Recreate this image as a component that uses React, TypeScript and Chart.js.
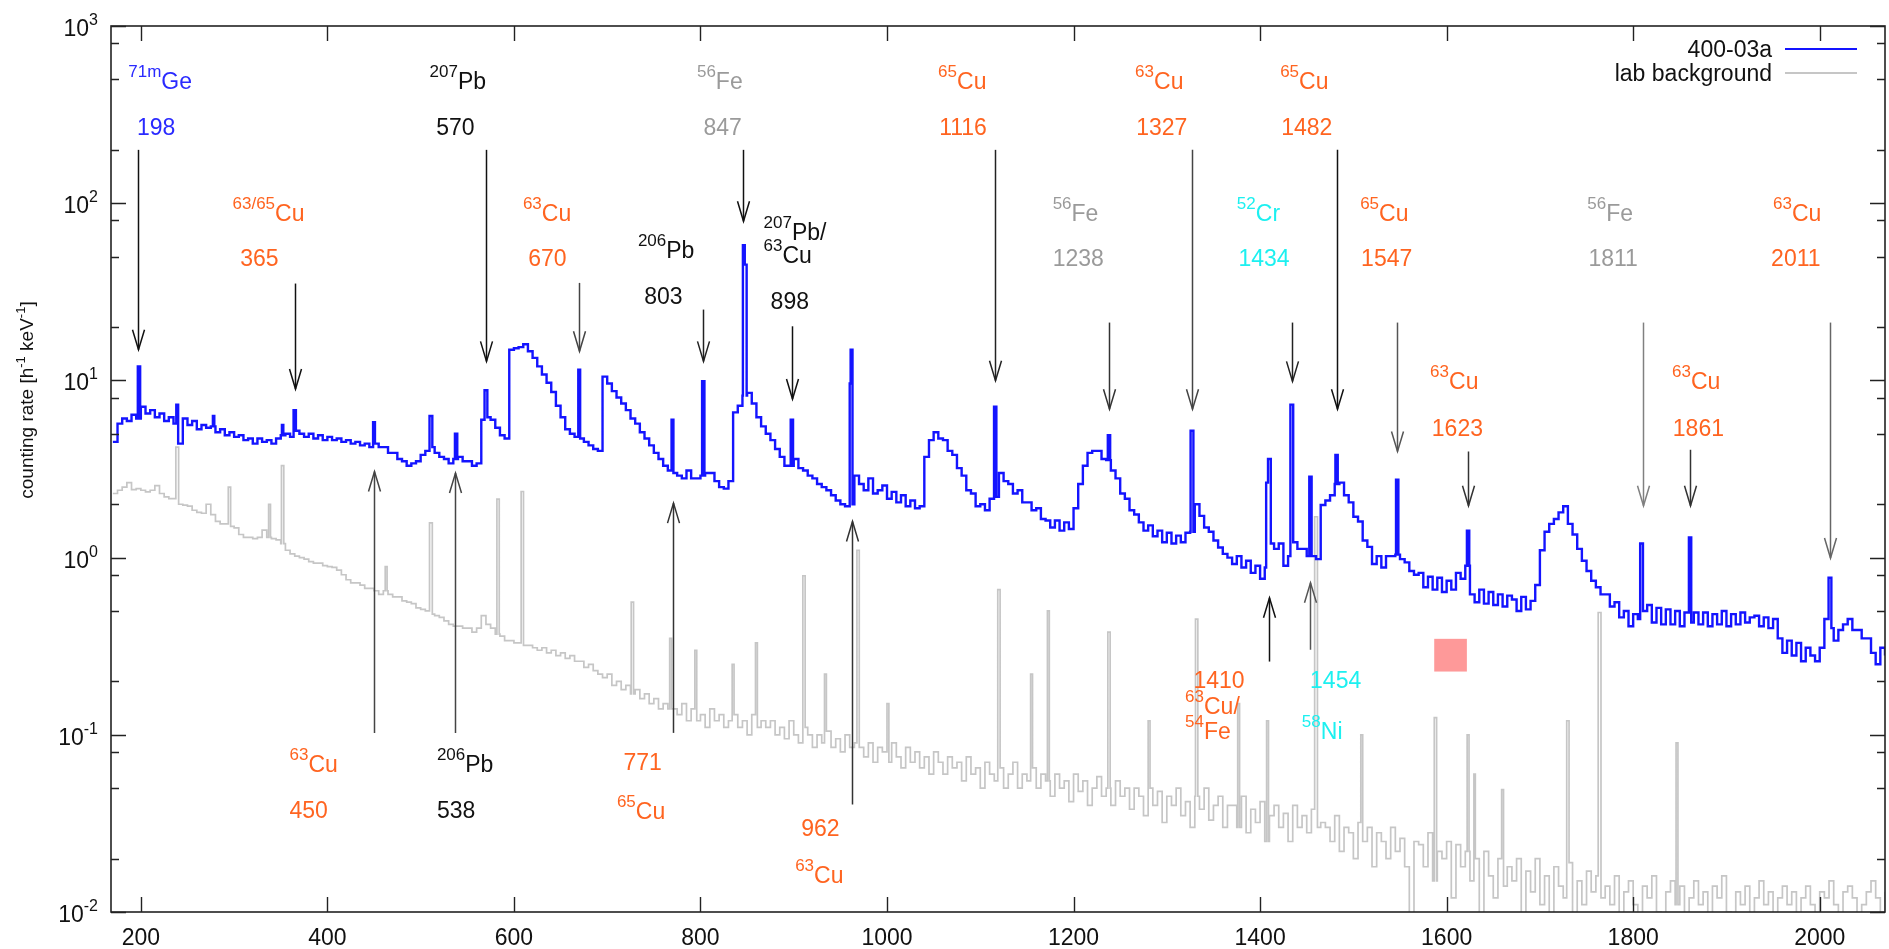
import React, { useEffect, useRef } from 'react';
import { Chart, registerables } from 'chart.js';

Chart.register(...registerables);

// ---------- axis ranges ----------
const X_MIN = 168;
const X_MAX = 2070;
const Y_MIN = 0.01;
const Y_MAX = 1000;

// ---------- spectrum bins (5 keV bins starting at 170 keV) ----------
const BIN_START_KEV = 170;
const BIN_WIDTH_KEV = 5;

// 400-03a counting rate per bin [1/(h keV)]
const sampleRate: number[] = [
  4.5, 5.7, 6.1, 5.9, 6.4, 6.1, 7.1, 6.5, 6.8, 6.2, 6.5, 5.9, 6.2, 5.7, 4.4, 6.1, 5.6, 5.9, 5.3, 5.6,
  5.4, 5.5, 5.1, 5.3, 4.9, 5.1, 4.8, 4.9, 4.6, 4.7, 4.4, 4.7, 4.5, 4.6, 4.4, 4.7, 4.9, 5.0, 4.8, 5.2,
  5.0, 4.8, 5.0, 4.7, 4.9, 4.6, 4.8, 4.6, 4.7, 4.5, 4.6, 4.4, 4.5, 4.3, 4.4, 4.2, 4.4, 4.2, 4.2, 3.9,
  3.9, 3.6, 3.5, 3.3, 3.4, 3.5, 3.8, 4.0, 4.2, 3.9, 3.7, 3.6, 3.4, 3.6, 3.7, 3.5, 3.5, 3.3, 3.4, 6.0,
  6.2, 6.0, 5.4, 4.9, 4.7, 14.9, 15.2, 15.4, 16.0, 14.6, 13.4, 12.0, 10.8, 9.7, 8.6, 7.2, 6.2, 5.3, 5.0, 4.8,
  4.7, 4.5, 4.3, 4.1, 4.0, 10.5, 9.6, 8.7, 8.0, 7.4, 6.8, 6.1, 5.7, 5.1, 4.7, 4.3, 3.9, 3.6, 3.3, 3.1,
  3.0, 2.9, 2.8, 3.1, 2.8, 2.8, 2.9, 3.0, 3.0, 2.7, 2.5, 2.45, 2.7, 6.6, 7.2, 8.2, 8.5, 7.4, 6.2, 5.5,
  5.0, 4.6, 4.1, 3.7, 3.3, 3.3, 3.6, 3.2, 3.1, 2.9, 2.8, 2.6, 2.5, 2.4, 2.25, 2.1, 2.0, 1.95, 2.0, 2.9,
  2.6, 2.4, 2.8, 2.3, 2.4, 2.55, 2.15, 2.35, 2.05, 2.25, 1.95, 2.1, 1.9, 1.95, 3.7, 4.6, 5.1, 4.7, 4.6, 4.0,
  3.8, 3.2, 2.9, 2.4, 2.3, 1.95, 2.0, 1.85, 2.15, 2.2, 3.0, 2.7, 2.6, 2.3, 2.4, 2.05, 2.05, 1.85, 1.9, 1.65,
  1.62, 1.48, 1.62, 1.42, 1.58, 1.45, 1.9, 2.6, 3.3, 3.9, 4.0, 4.0, 3.6, 3.55, 3.1, 2.8, 2.3, 2.15, 1.85, 1.75,
  1.58, 1.42, 1.52, 1.32, 1.42, 1.22, 1.38, 1.2, 1.33, 1.22, 1.38, 1.4, 2.0, 1.72, 1.48, 1.4, 1.25, 1.14, 1.05, 1.0,
  0.92, 1.02, 0.88, 0.96, 0.82, 0.9, 0.76, 0.88, 1.2, 1.12, 1.2, 0.9, 1.02, 1.22, 1.12, 1.12, 1.02, 1.02, 0.98, 1.98,
  2.1, 2.25, 2.6, 2.65, 2.25, 2.05, 1.7, 1.6, 1.25, 1.15, 0.92, 1.02, 0.88, 1.02, 1.02, 1.04, 0.98, 0.94, 0.84, 0.8,
  0.82, 0.68, 0.78, 0.66, 0.77, 0.64, 0.74, 0.66, 0.82, 0.76, 0.9, 0.62, 0.56, 0.66, 0.55, 0.64, 0.54, 0.62, 0.53, 0.61,
  0.58, 0.5, 0.6, 0.51, 0.57, 0.7, 1.1, 1.4, 1.55, 1.65, 1.8, 1.95, 1.55, 1.35, 1.12, 0.96, 0.84, 0.74, 0.68, 0.62,
  0.62, 0.53, 0.56, 0.46, 0.5, 0.41, 0.48, 0.45, 0.5, 0.54, 0.43, 0.52, 0.42, 0.51, 0.42, 0.5, 0.41, 0.49, 0.43, 0.49,
  0.42, 0.49, 0.41, 0.48, 0.42, 0.5, 0.41, 0.48, 0.42, 0.49, 0.43, 0.46, 0.47, 0.41, 0.46, 0.4, 0.45, 0.35, 0.29, 0.34,
  0.28, 0.33, 0.26, 0.31, 0.28, 0.26, 0.31, 0.45, 0.4, 0.34, 0.39, 0.42, 0.45, 0.39, 0.39, 0.35, 0.35, 0.29, 0.25, 0.31,
  0.28,
];

// lab background counting rate per bin
const backgroundRate: number[] = [
  2.3, 2.4, 2.5, 2.65, 2.42, 2.45, 2.4, 2.35, 2.4, 2.55, 2.3, 2.2, 2.15, 2.15, 2.0, 1.98, 1.95, 1.85, 1.8, 1.78,
  2.0, 1.75, 1.6, 1.55, 1.55, 1.5, 1.47, 1.35, 1.3, 1.3, 1.28, 1.3, 1.43, 1.3, 1.28, 1.26, 1.2, 1.1, 1.05, 1.02,
  1.0, 0.98, 0.95, 0.93, 0.93, 0.9, 0.89, 0.88, 0.85, 0.8, 0.75, 0.72, 0.72, 0.7, 0.67, 0.67, 0.65, 0.62, 0.65, 0.62,
  0.6, 0.6, 0.57, 0.56, 0.55, 0.52, 0.51, 0.5, 0.48, 0.47, 0.46, 0.44, 0.42, 0.41, 0.41, 0.4, 0.4, 0.38, 0.4, 0.47,
  0.42, 0.4, 0.37, 0.36, 0.34, 0.34, 0.33, 0.33, 0.32, 0.32, 0.31, 0.3, 0.31, 0.29, 0.3, 0.28, 0.29, 0.27, 0.28, 0.26,
  0.26, 0.24, 0.25, 0.23, 0.22, 0.21, 0.22, 0.19, 0.2, 0.18, 0.19, 0.17, 0.18, 0.16, 0.17, 0.15, 0.16, 0.14, 0.15, 0.14,
  0.14, 0.13, 0.15, 0.12, 0.14, 0.12, 0.13, 0.11, 0.14, 0.12, 0.13, 0.11, 0.12, 0.13, 0.11, 0.12, 0.1, 0.13, 0.11, 0.12,
  0.11, 0.12, 0.1, 0.11, 0.095, 0.12, 0.1, 0.09, 0.11, 0.1, 0.085, 0.1, 0.09, 0.105, 0.085, 0.095, 0.08, 0.1, 0.085, 0.09,
  0.085, 0.075, 0.09, 0.07, 0.085, 0.08, 0.07, 0.09, 0.075, 0.065, 0.085, 0.07, 0.08, 0.065, 0.075, 0.06, 0.08, 0.07, 0.06, 0.075,
  0.065, 0.07, 0.055, 0.075, 0.06, 0.065, 0.05, 0.07, 0.06, 0.055, 0.065, 0.05, 0.06, 0.07, 0.05, 0.06, 0.055, 0.065, 0.05, 0.06,
  0.055, 0.045, 0.06, 0.05, 0.055, 0.042, 0.06, 0.048, 0.055, 0.04, 0.05, 0.058, 0.045, 0.05, 0.04, 0.055, 0.045, 0.05, 0.038, 0.05,
  0.045, 0.035, 0.05, 0.04, 0.048, 0.032, 0.045, 0.04, 0.05, 0.035, 0.042, 0.03, 0.045, 0.038, 0.05, 0.033, 0.04, 0.045, 0.03, 0.04,
  0.04, 0.03, 0.045, 0.028, 0.038, 0.032, 0.042, 0.025, 0.035, 0.04, 0.03, 0.036, 0.025, 0.04, 0.03, 0.035, 0.028, 0.038, 0.03, 0.032,
  0.03, 0.025, 0.035, 0.022, 0.03, 0.028, 0.02, 0.032, 0.025, 0.03, 0.018, 0.028, 0.025, 0.02, 0.03, 0.022, 0.026, 0.018, 0.005, 0.025,
  0.024, 0.018, 0.028, 0.015, 0.022, 0.02, 0.025, 0.012, 0.024, 0.018, 0.022, 0.015, 0.02, 0.005, 0.022, 0.016, 0.012, 0.02, 0.014, 0.018,
  0.015, 0.02, 0.005, 0.017, 0.013, 0.02, 0.011, 0.016, 0.005, 0.018, 0.014, 0.012, 0.019, 0.005, 0.015, 0.011, 0.017, 0.013, 0.016, 0.012,
  0.014, 0.011, 0.016, 0.005, 0.013, 0.015, 0.011, 0.005, 0.014, 0.012, 0.016, 0.01, 0.005, 0.013, 0.015, 0.011, 0.014, 0.005, 0.012, 0.015,
  0.011, 0.013, 0.005, 0.014, 0.012, 0.016, 0.01, 0.005, 0.013, 0.011, 0.014, 0.005, 0.012, 0.015, 0.011, 0.013, 0.005, 0.012, 0.014, 0.011,
  0.013, 0.005, 0.012, 0.014, 0.011, 0.005, 0.013, 0.012, 0.015, 0.011, 0.005, 0.013, 0.014, 0.012, 0.005, 0.011, 0.013, 0.015, 0.012, 0.005,
  0.013,
];

// narrow lines: [energy keV, peak rate, width keV]
const samplePeaks: [number, number, number][] = [
  [198, 12.0, 2.5], [239, 7.3, 2], [278, 6.3, 1.5], [352, 5.6, 1.5], [365, 6.8, 2.5],
  [450, 5.8, 2], [511, 6.3, 3], [538, 5.0, 2.5], [570, 8.8, 3], [670, 11.5, 2],
  [770, 6.0, 2], [803, 9.9, 2.5], [846.5, 58, 2], [848.5, 45, 2], [898, 6.0, 2.5],
  [960.5, 9.6, 1], [962, 14.9, 2], [1116, 7.1, 2.5], [1238, 4.9, 2.5], [1327, 5.2, 3],
  [1407.5, 2.65, 2], [1410, 3.6, 3], [1434, 7.3, 3], [1454, 2.86, 2.5], [1482, 3.8, 2.5],
  [1547, 2.75, 2.5], [1623, 1.42, 2.5], [1809, 1.2, 3], [1861, 1.3, 2.5], [2011, 0.77, 3],
];

const backgroundPeaks: [number, number, number][] = [
  [239, 4.2, 3], [295, 2.5, 2.5], [338, 2.0, 2], [352, 3.3, 2.5], [463, 0.89, 2],
  [511, 1.57, 3], [583, 2.14, 2.5], [609, 2.36, 2.5], [727, 0.56, 2.5], [768, 0.35, 2],
  [795, 0.3, 2], [835, 0.25, 2], [860, 0.33, 2], [911, 0.79, 2.5], [934, 0.22, 2],
  [969, 1.1, 2.5], [1001, 0.15, 2], [1120, 0.66, 2.5], [1155, 0.22, 2], [1173, 0.5, 2],
  [1238, 0.38, 2.5], [1281, 0.12, 2], [1332, 0.45, 2.5], [1377, 0.15, 2], [1408, 0.12, 2],
  [1460, 1.7, 3], [1509, 0.1, 2], [1588, 0.125, 2.5], [1623, 0.1, 2], [1630, 0.06, 1.5],
  [1660, 0.049, 2], [1730, 0.12, 2.5], [1764, 0.49, 3], [1847, 0.09, 2],
];

// ---------- ticks ----------
const xTickValues = [200, 400, 600, 800, 1000, 1200, 1400, 1600, 1800, 2000];
const yDecadeExponents = [-2, -1, 0, 1, 2, 3];
const yMinorMultipliers = [2, 5, 8];

// ---------- colours ----------
const BLUE = '#1414ff';
const BG_GREY = '#c6c6c6';
const ORANGE = '#ff6420';
const GREY = '#9a9a9a';
const CYAN = '#1cf0f0';
const BLACK = '#111111';
const LBLUE = '#2a2aff';

// ---------- annotations ----------
// labels: left edge energy (keV), baseline rate, text (^{..} = superscript), colour
const labelEnergy = [186.5, 195.8, 509.5, 516.7, 796.2, 803.2, 1054.8, 1055.9, 1266.0, 1267.1, 1421.5, 1422.6,
  298.3, 306.6, 609.6, 615.3, 732.9, 739.7, 867.6, 867.6, 875.2, 1177.6, 1177.6, 1375.1, 1376.8, 1507.3, 1508.3,
  1750.9, 1752.0, 1950.0, 1947.9, 1582.3, 1584.1, 1841.7, 1842.5,
  359.4, 359.4, 517.4, 517.4, 717.5, 710.4, 908.0, 901.5, 1328.5, 1319.6, 1319.6, 1453.6, 1444.8];
const labelRate = [440, 243, 440, 243, 440, 243, 440, 243, 440, 243, 440, 243,
  79, 44, 79, 44, 49.1, 27.1, 62.3, 46.0, 25.3, 79, 44, 79, 44, 79, 44,
  79, 44, 79, 44, 8.94, 4.87, 8.94, 4.87,
  0.062, 0.0338, 0.062, 0.0338, 0.0632, 0.0334, 0.0269, 0.0146, 0.1833, 0.1307, 0.0944, 0.1833, 0.0944];
const labelText = ['^{71m}Ge', '198', '^{207}Pb', '570', '^{56}Fe', '847', '^{65}Cu', '1116', '^{63}Cu', '1327', '^{65}Cu', '1482',
  '^{63/65}Cu', '365', '^{63}Cu', '670', '^{206}Pb', '803', '^{207}Pb/', '^{63}Cu', '898', '^{56}Fe', '1238', '^{52}Cr', '1434', '^{65}Cu', '1547',
  '^{56}Fe', '1811', '^{63}Cu', '2011', '^{63}Cu', '1623', '^{63}Cu', '1861',
  '^{63}Cu', '450', '^{206}Pb', '538', '771', '^{65}Cu', '962', '^{63}Cu', '1410', '^{63}Cu/', '^{54}Fe', '1454', '^{58}Ni'];
const labelColor = [LBLUE, LBLUE, BLACK, BLACK, GREY, GREY, ORANGE, ORANGE, ORANGE, ORANGE, ORANGE, ORANGE,
  ORANGE, ORANGE, ORANGE, ORANGE, BLACK, BLACK, BLACK, BLACK, BLACK, GREY, GREY, CYAN, CYAN, ORANGE, ORANGE,
  GREY, GREY, ORANGE, ORANGE, ORANGE, ORANGE, ORANGE, ORANGE,
  ORANGE, ORANGE, BLACK, BLACK, ORANGE, ORANGE, ORANGE, ORANGE, ORANGE, ORANGE, ORANGE, CYAN, CYAN];

// arrows: energy, start rate (tail), end rate (head), colour
const arrowEnergy = [197, 570, 846, 1116, 1327, 1482, 365, 670, 803, 898, 1238, 1434, 1547, 1811, 2011, 1623, 1861,
  450, 537, 770.5, 962, 1410, 1454];
const arrowFrom = [200, 200, 200, 200, 200, 200, 35.2, 35.5, 25.1, 20.2, 21.2, 21.2, 21.2, 21.2, 21.2, 3.97, 4.06,
  0.1025, 0.1025, 0.1025, 0.0404, 0.259, 0.302];
const arrowTo = [14.9, 12.8, 79, 9.96, 6.88, 6.88, 8.94, 14.6, 12.8, 7.85, 6.88, 9.87, 3.97, 1.96, 0.994, 1.96, 1.96,
  3.06, 3.0, 2.03, 1.6, 0.593, 0.721];
const arrowColor = ['#111', '#111', '#111', '#222', '#444', '#111', '#111', '#444', '#222', '#111', '#333', '#222', '#555', '#808080', '#666', '#333', '#333',
  '#444', '#444', '#333', '#333', '#111', '#555'];

// masked box: energy range and rate range
const maskEnergy = [1586.7, 1621.7];
const maskRate = [0.2275, 0.348];

const FONT = '"Liberation Sans", Arial, Helvetica, sans-serif';

function buildSeries(rates: number[], peaks: [number, number, number][]) {
  const eps = 1e-6;
  const binAt = (e: number) => {
    const i = Math.floor((e - BIN_START_KEV) / BIN_WIDTH_KEV + eps);
    return rates[Math.max(0, Math.min(rates.length - 1, i))];
  };
  const pts: { x: number; y: number; o: number }[] = [];
  rates.forEach((v, i) => {
    const e = BIN_START_KEV + i * BIN_WIDTH_KEV;
    const inside = peaks.some(([pe, , w]) => e >= pe - w / 2 - eps && e <= pe + w / 2 + eps);
    if (!inside) pts.push({ x: e, y: v, o: 0 });
  });
  const starts = peaks.map(([pe, , w]) => pe - w / 2);
  peaks.forEach(([pe, pv, w]) => {
    pts.push({ x: pe - w / 2, y: pv, o: 1 });
    const end = pe + w / 2;
    if (!starts.some((s) => Math.abs(s - end) < eps)) pts.push({ x: end, y: binAt(end), o: 0 });
  });
  pts.sort((a, b) => a.x - b.x || a.o - b.o);
  return pts.map((p) => ({ x: p.x, y: p.y }));
}

function parseRich(text: string) {
  const parts: { t: string; sup: boolean }[] = [];
  const re = /\^\{([^}]*)\}/g;
  let last = 0;
  let m: RegExpExecArray | null;
  while ((m = re.exec(text))) {
    if (m.index > last) parts.push({ t: text.slice(last, m.index), sup: false });
    parts.push({ t: m[1], sup: true });
    last = re.lastIndex;
  }
  if (last < text.length) parts.push({ t: text.slice(last), sup: false });
  return parts;
}

function drawRich(ctx: CanvasRenderingContext2D, text: string, x: number, y: number,
  mainPx: number, supPx: number, raise: number, align: 'left' | 'center' | 'right') {
  const parts = parseRich(text);
  const mainFont = `${mainPx}px ${FONT}`;
  const supFont = `${supPx}px ${FONT}`;
  const widths = parts.map((p) => { ctx.font = p.sup ? supFont : mainFont; return ctx.measureText(p.t).width; });
  const total = widths.reduce((a, b) => a + b, 0);
  let cx = align === 'right' ? x - total : align === 'center' ? x - total / 2 : x;
  ctx.textAlign = 'left';
  ctx.textBaseline = 'alphabetic';
  parts.forEach((p, i) => {
    ctx.font = p.sup ? supFont : mainFont;
    ctx.fillText(p.t, cx, p.sup ? y - raise : y);
    cx += widths[i];
  });
}

const overlayPlugin = {
  id: 'spectrumOverlay',
  afterDatasetsDraw(chart: any) {
    const ctx: CanvasRenderingContext2D = chart.ctx;
    const xs = chart.scales.x;
    const ys = chart.scales.y;
    const a = chart.chartArea;
    ctx.save();

    // masked box
    const bx0 = xs.getPixelForValue(maskEnergy[0]);
    const bx1 = xs.getPixelForValue(maskEnergy[1]);
    const by0 = ys.getPixelForValue(maskRate[1]);
    const by1 = ys.getPixelForValue(maskRate[0]);
    ctx.fillStyle = '#fe9999';
    ctx.fillRect(bx0, by0, bx1 - bx0, by1 - by0);

    // arrows
    ctx.lineCap = 'butt';
    arrowEnergy.forEach((e, i) => {
      const x = Math.round(xs.getPixelForValue(e)) + 0.5;
      const y0 = ys.getPixelForValue(arrowFrom[i]);
      const y1 = ys.getPixelForValue(arrowTo[i]);
      ctx.strokeStyle = arrowColor[i];
      ctx.lineWidth = 1.5;
      ctx.beginPath();
      ctx.moveTo(x, y0);
      ctx.lineTo(x, y1);
      ctx.stroke();
      const dir = y1 > y0 ? 1 : -1;
      ctx.beginPath();
      ctx.moveTo(x - 6, y1 - dir * 20);
      ctx.lineTo(x, y1);
      ctx.lineTo(x + 6, y1 - dir * 20);
      ctx.stroke();
    });

    // labels
    labelText.forEach((t, i) => {
      ctx.fillStyle = labelColor[i];
      drawRich(ctx, t, xs.getPixelForValue(labelEnergy[i]), ys.getPixelForValue(labelRate[i]), 23, 17, 12, 'left');
    });

    // frame
    ctx.strokeStyle = '#222';
    ctx.lineWidth = 1.6;
    ctx.strokeRect(a.left, a.top, a.right - a.left, a.bottom - a.top);

    // ticks
    ctx.lineWidth = 1.4;
    ctx.beginPath();
    xTickValues.forEach((v) => {
      const px = Math.round(xs.getPixelForValue(v)) + 0.5;
      ctx.moveTo(px, a.bottom); ctx.lineTo(px, a.bottom - 15);
      ctx.moveTo(px, a.top); ctx.lineTo(px, a.top + 15);
    });
    yDecadeExponents.forEach((ex) => {
      const py = Math.round(ys.getPixelForValue(Math.pow(10, ex))) + 0.5;
      ctx.moveTo(a.left, py); ctx.lineTo(a.left + 15, py);
      ctx.moveTo(a.right, py); ctx.lineTo(a.right - 15, py);
      if (ex < 3) {
        yMinorMultipliers.forEach((mul) => {
          const pm = Math.round(ys.getPixelForValue(mul * Math.pow(10, ex))) + 0.5;
          ctx.moveTo(a.left, pm); ctx.lineTo(a.left + 8, pm);
          ctx.moveTo(a.right, pm); ctx.lineTo(a.right - 8, pm);
        });
      }
    });
    ctx.stroke();

    // tick labels
    ctx.fillStyle = BLACK;
    ctx.font = `23px ${FONT}`;
    ctx.textAlign = 'center';
    ctx.textBaseline = 'alphabetic';
    xTickValues.forEach((v) => {
      ctx.fillText(String(v), xs.getPixelForValue(v), a.bottom + 33);
    });
    yDecadeExponents.forEach((ex) => {
      const py = ys.getPixelForValue(Math.pow(10, ex));
      drawRich(ctx, `10^{${ex}}`, a.left - 13, py + 10, 23, 16, 11, 'right');
    });

    // y axis title
    ctx.save();
    ctx.translate(26, 400);
    ctx.rotate(-Math.PI / 2);
    ctx.fillStyle = BLACK;
    drawRich(ctx, 'counting rate [h^{-1} keV^{-1}]', 0, 7, 19, 13, 8, 'center');
    ctx.restore();

    // legend
    const ds = chart.data.datasets;
    ctx.font = `23px ${FONT}`;
    ctx.textAlign = 'right';
    ctx.fillStyle = BLACK;
    ds.forEach((d: any, i: number) => {
      const ly = a.top + 23 + i * 24;
      ctx.fillText(d.label, a.right - 113, ly + 8);
      ctx.strokeStyle = d.borderColor;
      ctx.lineWidth = 2;
      ctx.beginPath();
      ctx.moveTo(a.right - 100, ly);
      ctx.lineTo(a.right - 28, ly);
      ctx.stroke();
    });

    ctx.restore();
  },
};

export default function App() {
  const canvasRef = useRef<HTMLCanvasElement | null>(null);

  useEffect(() => {
    if (!canvasRef.current) return;
    const chart = new Chart(canvasRef.current, {
      type: 'line',
      data: {
        datasets: [
          {
            label: '400-03a',
            data: buildSeries(sampleRate, samplePeaks),
            borderColor: BLUE,
            borderWidth: 2.4,
            pointRadius: 0,
            stepped: true,
            fill: false,
          },
          {
            label: 'lab background',
            data: buildSeries(backgroundRate, backgroundPeaks),
            borderColor: BG_GREY,
            borderWidth: 1.7,
            pointRadius: 0,
            stepped: true,
            fill: false,
          },
        ],
      },
      options: {
        animation: false,
        responsive: false,
        maintainAspectRatio: false,
        layout: { padding: { top: 26, right: 4, left: 0, bottom: 0 } },
        plugins: { legend: { display: false }, tooltip: { enabled: false }, title: { display: false } },
        scales: {
          x: {
            type: 'linear',
            min: X_MIN,
            max: X_MAX,
            grid: { display: false },
            border: { display: false },
            ticks: { display: false },
            afterBuildTicks: (s: any) => { s.ticks = xTickValues.map((v) => ({ value: v })); },
            afterFit: (s: any) => { s.height = 37; },
          },
          y: {
            type: 'logarithmic',
            min: Y_MIN,
            max: Y_MAX,
            grid: { display: false },
            border: { display: false },
            ticks: { display: false },
            afterFit: (s: any) => { s.width = 111; },
          },
        },
      },
      plugins: [overlayPlugin],
    } as any);
    return () => chart.destroy();
  }, []);

  return (
    <div style={{ position: 'fixed', left: 0, top: 0, width: 1889, height: 949, background: '#fff' }}>
      <canvas ref={canvasRef} width={1889} height={949} style={{ display: 'block' }} />
    </div>
  );
}
